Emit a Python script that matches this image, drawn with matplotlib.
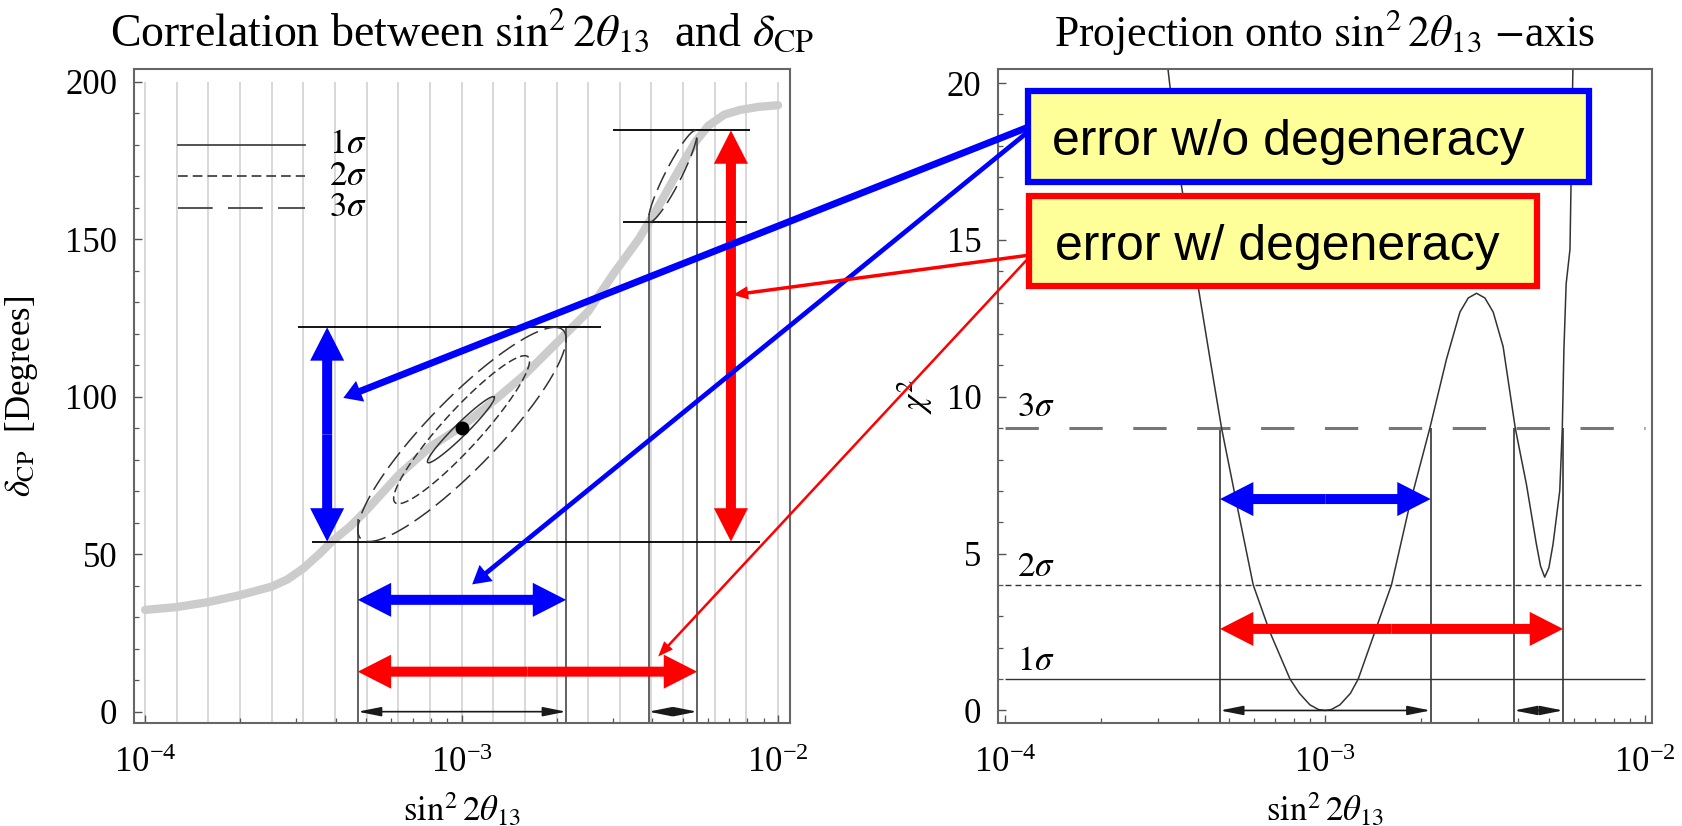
import numpy as np
import matplotlib
matplotlib.use("Agg")
import matplotlib.pyplot as plt
from matplotlib.patches import ArrowStyle, ConnectionPatch, Rectangle
from matplotlib.ticker import LogLocator, MultipleLocator, NullFormatter

plt.rcParams["font.family"] = ["Liberation Serif", "DejaVu Serif"]
plt.rcParams["mathtext.fontset"] = "stix"
plt.rcParams["lines.scale_dashes"] = False

# degeneracy curve: log10(sin^2 2theta13) vs delta_CP [deg]
curve_logs = [-4.0, -3.9, -3.8, -3.7, -3.6, -3.55, -3.5, -3.45, -3.41, -3.35,
              -3.3, -3.25, -3.2, -3.1, -3.0, -2.9, -2.8, -2.7, -2.6, -2.52,
              -2.44, -2.38, -2.33, -2.29, -2.26, -2.22, -2.17, -2.12, -2.06, -2.0]
curve_delta = [32.3, 33.2, 34.8, 37, 39.7, 42, 45.5, 50, 54, 59,
               64, 69.5, 75, 84, 90.5, 98.5, 107, 117, 127, 139,
               150, 160, 169, 176, 181, 186, 189.5, 191, 192, 192.5]

best_s, best_delta = 1.0e-3, 90.0

# allowed regions: sin^2 2theta13 range, delta range, minor half-width
c1_s, c1_d, c1_w = (7.8e-4, 1.27e-3), (79, 100), 2.0
c2_s, c2_d, c2_w = (6.1e-4, 1.64e-3), (66, 113), 6.0
c3_s, c3_d, c3_w = (4.7e-4, 2.14e-3), (54, 122), 11.0
c3b_s, c3b_d, c3b_w = (3.9e-3, 5.55e-3), (155.5, 184.5), 2.6

# projection lines (left panel)
proj_s = [4.7e-4, 2.14e-3, 3.9e-3, 5.55e-3]
proj_top = [61, 122, 158, 182]
hl_delta = [122, 54, 155.5, 184.5]
hl_from = [3.04e-4, 3.37e-4, 3.24e-3, 3.0e-3]
hl_to = [2.76e-3, 8.8e-3, 8.0e-3, 8.15e-3]

# chi^2 projected onto sin^2 2theta13
chi_logs = [-3.490, -3.448, -3.396, -3.359, -3.323, -3.27, -3.224, -3.172, -3.109,
            -3.08, -3.047, -3.02, -3.0, -2.98, -2.953, -2.92, -2.896, -2.844, -2.792,
            -2.734, -2.672, -2.620, -2.578, -2.552, -2.526, -2.50, -2.474, -2.443,
            -2.405, -2.370, -2.339, -2.326, -2.313, -2.30, -2.287, -2.266, -2.258,
            -2.253, -2.246, -2.234, -2.225]
chi_vals = [20.4, 16.7, 13.5, 11.2, 9.0, 6.3, 4.0, 2.5, 1.0,
            0.55, 0.18, 0.03, 0.0, 0.03, 0.18, 0.55, 1.0, 2.5, 4.0,
            6.6, 9.0, 11.2, 12.7, 13.15, 13.3, 13.15, 12.7, 11.6,
            9.0, 7.2, 5.3, 4.6, 4.25, 4.55, 5.3, 7.0, 9.0,
            11.5, 13.6, 14.7, 20.4]
sigma_levels = [1, 4, 9]
sigma_names = [r"$1\sigma$", r"$2\sigma$", r"$3\sigma$"]

# annotation arrows
blue_v = (3.76e-4, 54, 122)
red_v = (7.1e-3, 54, 184.5)
blue_h_left, red_h_left = 35.5, 12.7
blue_h_right, red_h_right = 6.74, 2.6
link_blue = [(4.23e-4, 99.6), (1.08e-3, 40.4)]
link_red = [(7.2e-3, 132.3), (4.18e-3, 17.5)]

BLUE, RED, YELLOW = "#0000ff", "#ff0000", "#ffff99"
INK = "#333333"


def contour(ax, s_rng, d_rng, b, **kw):
    # tilted ellipse touching the box s_rng x d_rng; 1 decade ~ 100 deg on screen
    u0, u1 = 100 * np.log10(s_rng[0]), 100 * np.log10(s_rng[1])
    cu, cd = (u0 + u1) / 2, (d_rng[0] + d_rng[1]) / 2
    ex, ey = (u1 - u0) / 2, (d_rng[1] - d_rng[0]) / 2
    a2 = ex ** 2 + ey ** 2 - b ** 2
    th = 0.5 * np.arccos((ex ** 2 - ey ** 2) / (a2 - b ** 2))
    a = np.sqrt(a2)
    t = np.linspace(0, 2 * np.pi, 240)
    U = cu + a * np.cos(th) * np.cos(t) - b * np.sin(th) * np.sin(t)
    D = cd + a * np.sin(th) * np.cos(t) + b * np.cos(th) * np.sin(t)
    ax.plot(10 ** (U / 100), D, color=INK, lw=1.1, **kw)


def fat_arrow(ax, p0, p1, color, tail=7.2, hl=24, hw=24.5, logx=False):
    # double headed arrow built from two filled arrows leaving the middle
    if logx:
        mid = (np.sqrt(p0[0] * p1[0]), p0[1])
    else:
        mid = (p0[0], (p0[1] + p1[1]) / 2)
    style = ArrowStyle("simple", head_length=hl, head_width=hw, tail_width=tail)
    for end in (p0, p1):
        ax.annotate("", xy=end, xytext=mid,
                    arrowprops=dict(arrowstyle=style, mutation_scale=1, lw=0,
                                    color=color, shrinkA=0, shrinkB=0), zorder=6)


def small_arrow(ax, x0, x1, y):
    style = ArrowStyle("<|-|>", head_length=14, head_width=2.8)
    ax.annotate("", xy=(x1, y), xytext=(x0, y),
                arrowprops=dict(arrowstyle=style, mutation_scale=1, lw=1.2,
                                color="#1a1a1a", shrinkA=0, shrinkB=0), zorder=5)


def style_axes(ax):
    ax.set_xscale("log")
    for sp in ax.spines.values():
        sp.set_color("#666666")
        sp.set_linewidth(1.5)
    ax.xaxis.set_minor_locator(LogLocator(base=10, subs=range(2, 10)))
    ax.xaxis.set_minor_formatter(NullFormatter())
    ax.tick_params(which="both", direction="in", top=False, right=False,
                   color="#555555", labelsize=25)
    ax.tick_params(which="major", length=6, width=1.0)
    ax.tick_params(which="minor", length=3.5, width=0.9)
    ax.tick_params(axis="y", pad=12)
    ax.tick_params(axis="x", pad=17)


fig = plt.figure(figsize=(16.82, 8.26), dpi=100)
axL = fig.add_axes([0.0797, 0.1243, 0.3900, 0.7918])
axR = fig.add_axes([0.5933, 0.1243, 0.3888, 0.7918])

# ---- left: correlation plane
style_axes(axL)
axL.set_xlim(10 ** -4.035, 10 ** -1.962)
axL.set_ylim(-3.7, 203.9)
axL.yaxis.set_major_locator(MultipleLocator(50))
axL.yaxis.set_minor_locator(MultipleLocator(10))

grid_x = 10.0 ** np.arange(-4.0, -1.99, 0.1)
axL.vlines(grid_x, -3.7, 200, color="#d6d6d6", lw=1.3, zorder=0)
axL.plot(10.0 ** np.array(curve_logs), curve_delta, color="#cccccc", lw=6,
         solid_capstyle="round", solid_joinstyle="round", zorder=1)
axL.vlines(proj_s, -3.7, proj_top, color="#555555", lw=1.3, zorder=2)
axL.hlines(hl_delta, hl_from, hl_to, color="black", lw=1.3, zorder=3)

contour(axL, c1_s, c1_d, c1_w, zorder=3)
contour(axL, c2_s, c2_d, c2_w, dashes=(6, 3), zorder=3)
contour(axL, c3_s, c3_d, c3_w, dashes=(14, 5), zorder=3)
contour(axL, c3b_s, c3b_d, c3b_w, dashes=(14, 5), zorder=3)
axL.plot([best_s], [best_delta], "o", color="black", ms=9, zorder=4)

# legend drawn by hand
leg_x = (1.27e-4, 3.21e-4)
leg_y = [180, 170, 160]
leg_dash = [None, (7, 3.6), (25, 11)]
for yy, dsh, name in zip(leg_y, leg_dash, sigma_names):
    kw = {} if dsh is None else {"dashes": dsh}
    axL.plot(leg_x, [yy, yy], color="#444444", lw=1.3, **kw)
    axL.text(3.81e-4, yy, name, fontsize=25, va="center", ha="left")

fat_arrow(axL, (blue_v[0], blue_v[1]), (blue_v[0], blue_v[2]), BLUE)
fat_arrow(axL, (red_v[0], red_v[1]), (red_v[0], red_v[2]), RED)
fat_arrow(axL, (c3_s[0], blue_h_left), (c3_s[1], blue_h_left), BLUE, logx=True)
fat_arrow(axL, (c3_s[0], red_h_left), (c3b_s[1], red_h_left), RED, logx=True)
small_arrow(axL, c3_s[0], c3_s[1], 0)
small_arrow(axL, c3b_s[0], c3b_s[1], 0)

axL.set_title(r"Correlation between $\sin^2 2\theta_{13}$  and $\delta_{\rm CP}$",
              fontsize=33, pad=17)
axL.set_xlabel(r"$\sin^2 2\theta_{13}$", fontsize=25, labelpad=8)
axL.set_ylabel(r"$\delta_{\rm CP}$  [Degrees]", fontsize=25, labelpad=18)

# ---- right: projection
style_axes(axR)
axR.set_xlim(10 ** -4.022, 10 ** -1.978)
axR.set_ylim(-0.41, 20.44)
axR.yaxis.set_major_locator(MultipleLocator(5))
axR.yaxis.set_minor_locator(MultipleLocator(1))

axR.vlines(proj_s, -0.41, 9, color="#444444", lw=1.3, zorder=2)
axR.hlines(9, 1e-4, 1e-2, color="#777777", lw=2.2, linestyles=[(0, (24, 22))], zorder=2)
axR.hlines(4, 1e-4, 1e-2, color=INK, lw=1.0, linestyles=[(0, (4.3, 2.9))], zorder=2)
axR.hlines(1, 1e-4, 1e-2, color=INK, lw=1.0, zorder=2)
for lev, name, off in zip(sigma_levels, sigma_names, [0.3, 0.3, 0.4]):
    axR.text(1.09e-4, lev + off, name, fontsize=25, ha="left", va="baseline")

axR.plot(10.0 ** np.array(chi_logs), chi_vals, color=INK, lw=1.1, zorder=3)

fat_arrow(axR, (c3_s[0], blue_h_right), (c3_s[1], blue_h_right), BLUE, logx=True)
fat_arrow(axR, (c3_s[0], red_h_right), (c3b_s[1], red_h_right), RED, logx=True)
small_arrow(axR, c3_s[0], c3_s[1], 0)
small_arrow(axR, c3b_s[0], c3b_s[1], 0)

axR.set_title(r"Projection onto $\sin^2 2\theta_{13}$ $-$axis", fontsize=31.5, pad=17)
axR.set_xlabel(r"$\sin^2 2\theta_{13}$", fontsize=25, labelpad=8)
axR.set_ylabel(r"$\chi^2$", fontsize=25, labelpad=8)

# ---- labelled boxes and their pointers
boxes = [
    ((0.0459, 0.8272), 0.8578, 0.1392, BLUE, "error w/o degeneracy", (0.0826, 0.8685)),
    ((0.0474, 0.6682), 0.7768, 0.1376, RED, "error w/ degeneracy", (0.0872, 0.708)),
]
for (x0, y0), w, h, col, label, tpos in boxes:
    axR.add_patch(Rectangle((x0, y0), w, h, transform=axR.transAxes, facecolor=YELLOW,
                            edgecolor=col, lw=4.5, clip_on=False, zorder=10))
    axR.text(*tpos, label, transform=axR.transAxes, fontsize=36, family="Liberation Sans",
             ha="left", va="baseline", zorder=11)

links = [
    ((0.0459, 0.9114), link_blue[0], BLUE, 5.0, 13, 16),
    ((0.0459, 0.9043), link_blue[1], BLUE, 3.4, 13, 15),
    ((0.0459, 0.7156), link_red[0], RED, 2.5, 11, 9.5),
    ((0.0459, 0.7106), link_red[1], RED, 1.8, 11, 8.6),
]
for start, tip, col, tw, hl, hw in links:
    cp = ConnectionPatch(xyA=start, coordsA=axR.transAxes, xyB=tip, coordsB=axL.transData,
                         arrowstyle=ArrowStyle("simple", head_length=hl, head_width=hw,
                                               tail_width=tw),
                         mutation_scale=1, lw=0, color=col, shrinkA=0, shrinkB=0, zorder=12)
    fig.add_artist(cp)

fig.savefig("out.png", dpi=100, facecolor="white")
